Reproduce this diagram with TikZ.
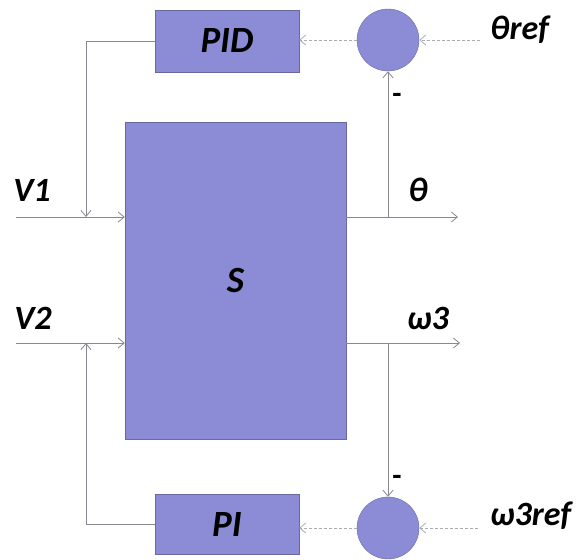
\documentclass[tikz,border=0pt]{standalone}
\usepackage{fontspec}
\setmainfont{Carlito}
\usetikzlibrary{arrows.meta,positioning,calc}
\definecolor{blkfill}{RGB}{140,140,214}
\definecolor{wire}{RGB}{135,135,145}

\begin{document}
\begin{tikzpicture}[x=1pt,y=-1pt,
  blk/.style={draw=blkfill!75!black,fill=blkfill,inner sep=0pt,font=\bfseries\itshape\fontsize{37}{40}\selectfont},
  sumc/.style={circle,draw=blkfill!75!black,fill=blkfill,minimum size=62pt,inner sep=0pt},
  lbl/.style={inner sep=0pt,font=\bfseries\itshape\fontsize{34}{37}\selectfont},
  minus/.style={inner sep=0pt,font=\bfseries\fontsize{30}{32}\selectfont},
  sig/.style={draw=wire,line width=0.8pt,-{Straight Barb[length=6pt,width=10pt]}},
  refsig/.style={sig,draw=wire!70,densely dashed}]
  \useasboundingbox (0,0) rectangle (579,560);
  % blocks
  \node[blk,minimum width=144pt,minimum height=62pt] (pid) at (227,41) {PID};
  \node[blk,minimum width=221pt,minimum height=317pt] (sys) at (235.5,280.5) {S};
  \node[blk,minimum width=144pt,minimum height=60pt] (pi) at (227,524) {PI};
  \node[sumc] (sumT) at (388,40) {};
  \node[sumc] (sumB) at (388,528) {};
  % signal points
  \coordinate (in1) at (16,217);  \coordinate (in2) at (16,343);
  \coordinate (out1) at (458,217); \coordinate (out2) at (460,343);
  \coordinate (tap1) at (388,217); \coordinate (tap2) at (388,343);
  \coordinate (j1) at (86,217);   \coordinate (j2) at (86,343);
  \coordinate (thin) at (480,40); \coordinate (win) at (478,528);
  % labels
  \node[lbl,anchor=west] (thref) at (490,30) {θref};
  \node[lbl,anchor=west] (wref) at (490,516) {ω3ref};
  \node[lbl] (v1) at (32,190) {V1};
  \node[lbl] (v2) at (33,318) {V2};
  \node[lbl] (th) at (418,190) {θ};
  \node[lbl] (w3) at (428,318) {ω3};
  \node[minus] (mT) at (397,98) {-};
  \node[minus] (mB) at (397,480) {-};
  % connectors
  \draw[refsig] (thin) -- (sumT.east);
  \draw[refsig] (sumT.west) -- (sumT.west -| pid.east);
  \draw[sig] (pid.west) -| (j1);
  \draw[sig] (in1) -- (sys.west |- in1);
  \draw[sig] (sys.east |- out1) -- (out1);
  \draw[sig] (tap1) -- (sumT.south);
  \draw[sig] (in2) -- (sys.west |- in2);
  \draw[sig] (sys.east |- out2) -- (out2);
  \draw[sig] (tap2) -- (sumB.north);
  \draw[refsig] (win) -- (sumB.east);
  \draw[refsig] (sumB.west) -- (sumB.west -| pi.east);
  \draw[sig] (pi.west) -| (j2);
\end{tikzpicture}
\end{document}
